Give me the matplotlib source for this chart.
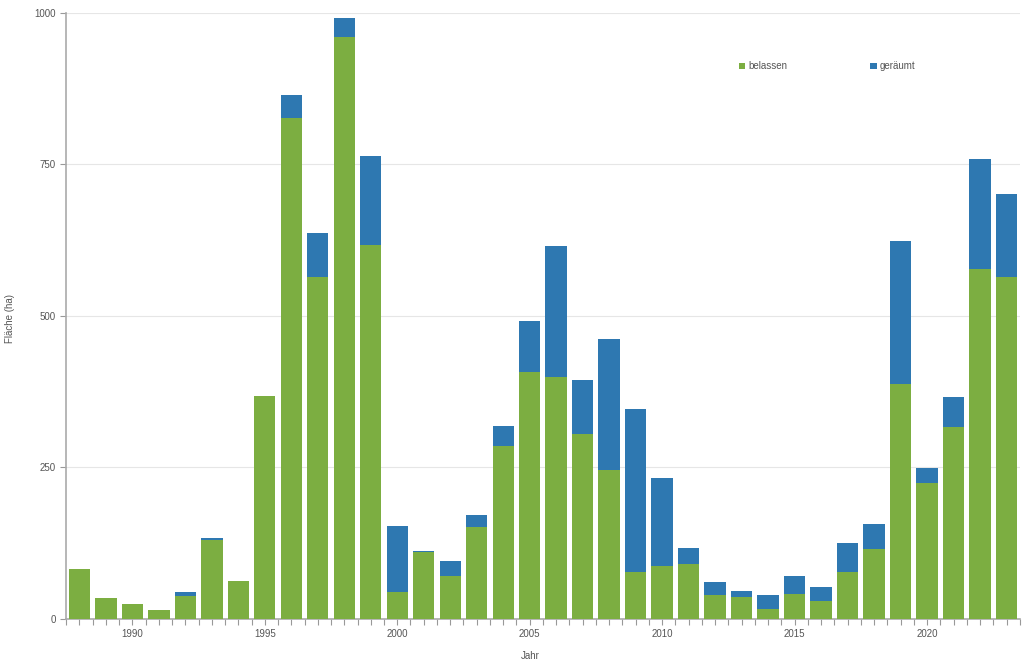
import matplotlib
matplotlib.use("Agg")
import matplotlib.pyplot as plt
from matplotlib.ticker import MultipleLocator

plt.rcParams['font.family'] = ['Liberation Sans', 'DejaVu Sans']

years = list(range(1988, 2024))
belassen = [83, 34, 24, 15, 38, 131, 62, 368, 827, 564,
            960, 617, 44, 111, 71, 152, 285, 407, 399, 305,
            246, 78, 87, 91, 40, 37, 17, 42, 30, 77,
            116, 388, 225, 316, 578, 564]
geraeumt = [0, 0, 0, 0, 7, 2, 0, 0, 38, 73,
            31, 147, 110, 2, 25, 19, 33, 85, 217, 89,
            216, 268, 145, 26, 21, 9, 23, 29, 22, 49,
            41, 236, 24, 50, 181, 138]

green = '#7cae41'
blue = '#2e78b1'
grey = '#999999'

fig = plt.figure(figsize=(10.24, 6.67), dpi=100)
ax = fig.add_axes([0.0645, 0.072, 0.9315, 0.9085])

ax.bar(years, belassen, width=0.81, color=green, label='belassen', zorder=3)
ax.bar(years, geraeumt, width=0.81, bottom=belassen, color=blue, label='geräumt', zorder=3)

ax.set_xlim(1987.5, 2023.5)
ax.set_ylim(0, 1000)
ax.set_yticks([0, 250, 500, 750, 1000])
ax.set_xticks(range(1990, 2021, 5))
ax.xaxis.set_minor_locator(MultipleLocator(0.5))
ax.grid(axis='y', color='#e6e6e6', linewidth=0.8, zorder=0)

for side in ['top', 'right']:
    ax.spines[side].set_visible(False)
for side in ['left', 'bottom']:
    ax.spines[side].set_color('#aaaaaa')
    ax.spines[side].set_linewidth(1.2)

ax.tick_params(axis='both', which='both', color=grey, labelcolor='#555555',
               labelsize=7, length=4, width=0.8)
ax.tick_params(axis='x', which='major', pad=3)

fig.text(0.010, 0.522, 'Fläche (ha)', rotation=90, ha='center', va='center',
         fontsize=7, color='#555555')
fig.text(0.518, 0.016, 'Jahr', ha='center', va='center', fontsize=7, color='#555555')

ax.legend(ncol=2, frameon=False, fontsize=7, labelcolor='#555555',
          handlelength=0.7, handleheight=0.7, handletextpad=0.3,
          columnspacing=8.5, loc='center left', bbox_to_anchor=(0.696, 0.912))

fig.savefig('out.png', dpi=100)
